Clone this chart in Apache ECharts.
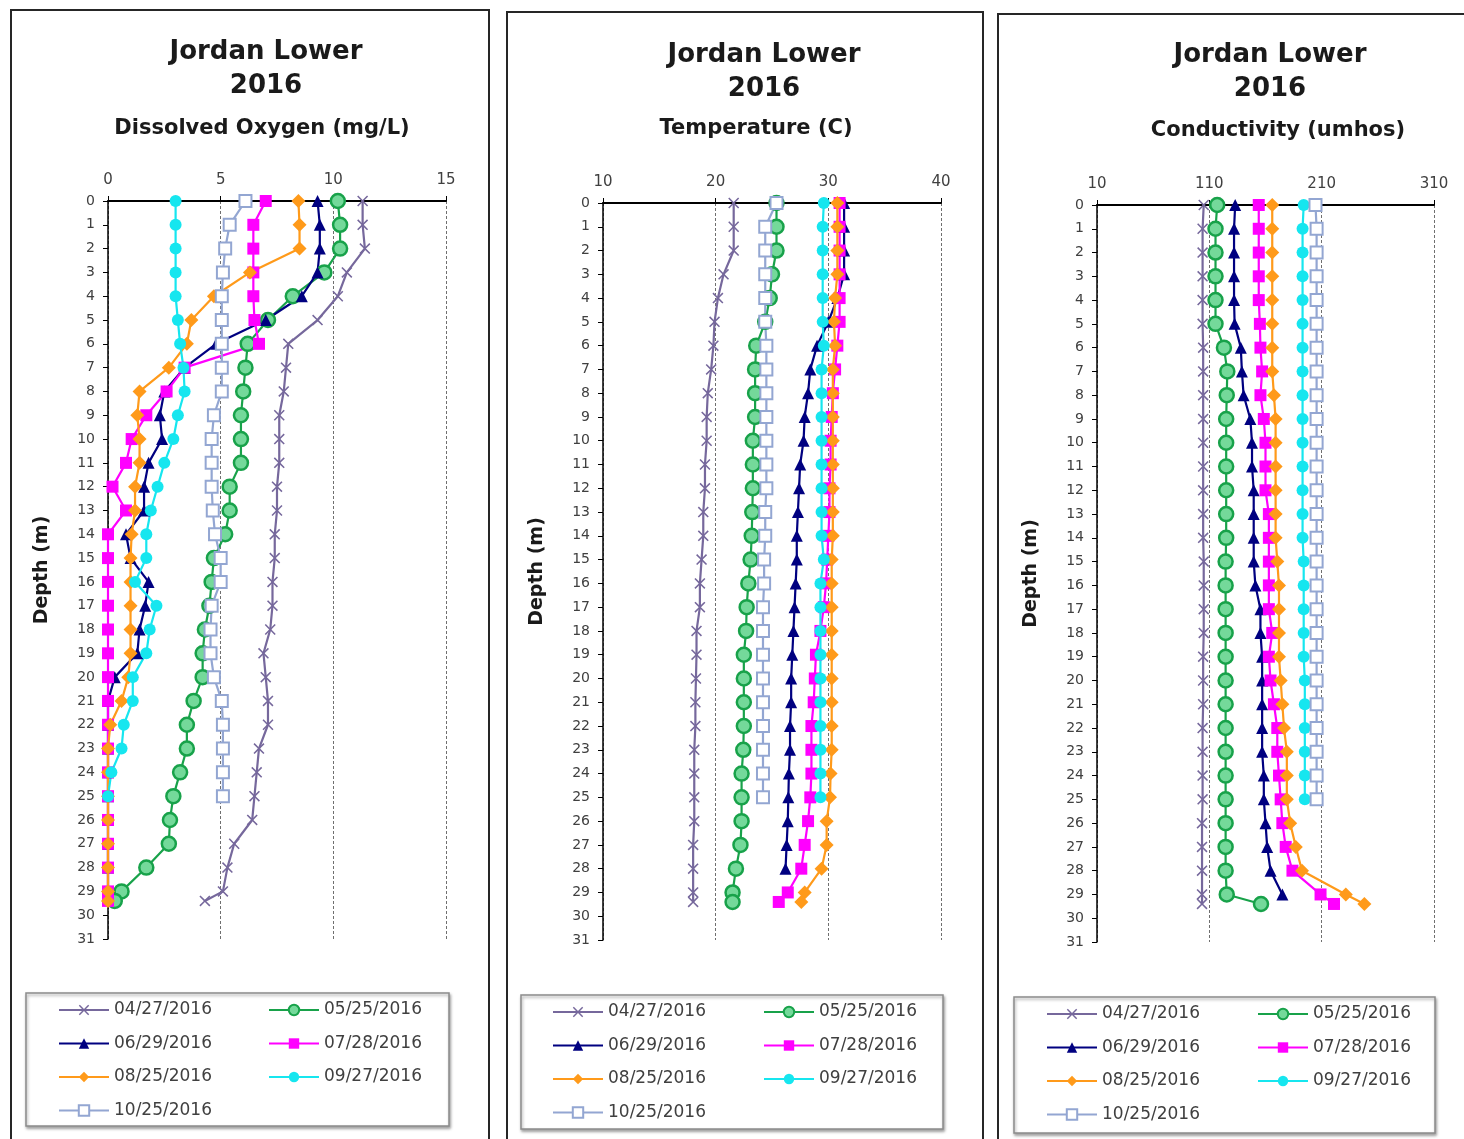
<!DOCTYPE html>
<html>
<head>
<meta charset="utf-8">
<title>Jordan Lower 2016</title>
<script src="https://cdn.jsdelivr.net/npm/echarts@6/dist/echarts.min.js"></script>
<style>
  html, body { margin: 0; padding: 0; background: #fff; }
  #chart { width: 1464px; height: 1139px; }
</style>
</head>
<body>
<div id="chart"></div>
<script>
// sampling dates (legend entries)
const dates = ["04/27/2016", "05/25/2016", "06/29/2016", "07/28/2016", "08/25/2016", "09/27/2016", "10/25/2016"];

// depth (m) of each reading
const depthsTo25 = [0, 1, 2, 3, 4, 5, 6, 7, 8, 9, 10, 11, 12, 13, 14, 15, 16, 17, 18, 19, 20, 21, 22, 23, 24, 25];
const depthsTo28 = [0, 1, 2, 3, 4, 5, 6, 7, 8, 9, 10, 11, 12, 13, 14, 15, 16, 17, 18, 19, 20, 21, 22, 23, 24, 25, 26, 27, 28];
const depthsTo29 = [0, 1, 2, 3, 4, 5, 6, 7, 8, 9, 10, 11, 12, 13, 14, 15, 16, 17, 18, 19, 20, 21, 22, 23, 24, 25, 26, 27, 28, 29];
const depthsToBottom = [0, 1, 2, 3, 4, 5, 6, 7, 8, 9, 10, 11, 12, 13, 14, 15, 16, 17, 18, 19, 20, 21, 22, 23, 24, 25, 26, 27, 28, 29, 29.4];

// dissolved oxygen (mg/L)
const oxygen0427 = [11.3, 11.3, 11.4, 10.6, 10.2, 9.3, 8.0, 7.9, 7.8, 7.6, 7.6, 7.6, 7.5, 7.5, 7.4, 7.4, 7.3, 7.3, 7.2, 6.9, 7.0, 7.1, 7.1, 6.7, 6.6, 6.5, 6.4, 5.6, 5.3, 5.1, 4.3];
const oxygen0525 = [10.2, 10.3, 10.3, 9.6, 8.2, 7.1, 6.2, 6.1, 6.0, 5.9, 5.9, 5.9, 5.4, 5.4, 5.2, 4.7, 4.6, 4.5, 4.3, 4.2, 4.2, 3.8, 3.5, 3.5, 3.2, 2.9, 2.75, 2.7, 1.7, 0.6, 0.3];
const oxygen0629 = [9.3, 9.4, 9.4, 9.3, 8.6, 7.0, 4.8, 3.4, 2.5, 2.3, 2.4, 1.8, 1.6, 1.6, 0.8, 1.0, 1.8, 1.65, 1.4, 1.3, 0.3, 0, 0, 0, 0, 0, 0, 0, 0, 0];
const oxygen0728 = [7.0, 6.45, 6.45, 6.45, 6.45, 6.5, 6.7, 3.4, 2.6, 1.7, 1.05, 0.8, 0.2, 0.8, 0, 0, 0, 0, 0, 0, 0, 0, 0, 0, 0, 0, 0, 0, 0, 0, 0];
const oxygen0825 = [8.45, 8.5, 8.5, 6.3, 4.7, 3.7, 3.5, 2.7, 1.4, 1.3, 1.4, 1.4, 1.2, 1.2, 1.05, 1.0, 1.0, 1.0, 1.0, 1.0, 0.9, 0.6, 0.1, 0, 0, 0, 0, 0, 0, 0, 0];
const oxygen0927 = [3.0, 3.0, 3.0, 3.0, 3.0, 3.1, 3.2, 3.35, 3.4, 3.1, 2.9, 2.5, 2.2, 1.9, 1.7, 1.7, 1.2, 2.15, 1.85, 1.7, 1.1, 1.1, 0.7, 0.6, 0.15, 0];
const oxygen1025 = [6.1, 5.4, 5.2, 5.1, 5.05, 5.05, 5.05, 5.05, 5.05, 4.7, 4.6, 4.6, 4.6, 4.65, 4.75, 5.0, 5.0, 4.6, 4.55, 4.55, 4.7, 5.05, 5.1, 5.1, 5.1, 5.1];

// temperature (C)
const temp0427 = [21.6, 21.6, 21.6, 20.7, 20.2, 19.9, 19.8, 19.6, 19.3, 19.2, 19.2, 19.05, 19.05, 18.9, 18.9, 18.75, 18.6, 18.6, 18.3, 18.3, 18.25, 18.2, 18.2, 18.1, 18.1, 18.1, 18.1, 18.0, 18.0, 18.0, 18.0];
const temp0525 = [25.4, 25.4, 25.4, 25.0, 24.8, 24.4, 23.6, 23.5, 23.5, 23.5, 23.3, 23.3, 23.3, 23.25, 23.2, 23.1, 22.9, 22.75, 22.7, 22.5, 22.5, 22.5, 22.5, 22.45, 22.3, 22.3, 22.3, 22.2, 21.8, 21.5, 21.5];
const temp0629 = [31.4, 31.4, 31.4, 31.4, 30.8, 30.0, 29.0, 28.4, 28.2, 27.9, 27.8, 27.5, 27.4, 27.3, 27.2, 27.2, 27.1, 27.0, 26.9, 26.8, 26.7, 26.7, 26.6, 26.6, 26.5, 26.45, 26.4, 26.3, 26.2];
const temp0728 = [31.0, 31.0, 31.0, 31.0, 31.0, 31.0, 30.8, 30.6, 30.4, 30.3, 30.2, 30.2, 30.1, 30.1, 30.0, 29.9, 29.8, 29.6, 29.3, 28.9, 28.8, 28.7, 28.5, 28.5, 28.5, 28.4, 28.2, 27.9, 27.6, 26.4, 25.6];
const temp0825 = [30.8, 30.8, 30.8, 30.8, 30.6, 30.5, 30.6, 30.4, 30.4, 30.4, 30.4, 30.4, 30.4, 30.4, 30.4, 30.3, 30.3, 30.3, 30.3, 30.3, 30.3, 30.3, 30.3, 30.3, 30.2, 30.15, 29.85, 29.85, 29.4, 27.9, 27.6];
const temp0927 = [29.6, 29.5, 29.5, 29.5, 29.5, 29.5, 29.6, 29.4, 29.4, 29.4, 29.4, 29.4, 29.4, 29.4, 29.4, 29.6, 29.3, 29.3, 29.3, 29.3, 29.3, 29.3, 29.3, 29.3, 29.3, 29.3];
const temp1025 = [25.4, 24.4, 24.4, 24.4, 24.4, 24.4, 24.5, 24.5, 24.5, 24.5, 24.5, 24.5, 24.5, 24.4, 24.4, 24.3, 24.3, 24.2, 24.2, 24.2, 24.2, 24.2, 24.2, 24.2, 24.2, 24.2];

// conductivity (umhos)
const cond0427 = [105, 104, 104, 104, 104, 104, 104.5, 104.5, 104.5, 104.5, 104.5, 104.5, 104.5, 104.5, 104.5, 105, 105, 105, 105, 104.5, 104.5, 104.5, 104, 104, 104, 104, 103.5, 103.5, 103.5, 103.5, 103.5];
const cond0525 = [117, 115.5, 115.5, 115.5, 115.5, 115.5, 123, 126, 125.5, 125, 125, 125, 125, 125, 125, 124.5, 124.5, 124.5, 124.5, 124.5, 124.5, 124.5, 124.5, 124.5, 124.5, 124.5, 124.5, 124.5, 124.5, 125.5, 156];
const cond0629 = [133, 132, 132, 132, 132, 132.5, 138, 139, 140.5, 146.5, 148, 148, 149.5, 149.5, 149.5, 149.5, 151, 155.5, 155.5, 157, 157, 157, 157, 157, 158.5, 158.5, 160, 161.5, 164.5, 175];
const cond0728 = [154, 154, 154, 154, 154, 155, 155.5, 157, 155.5, 158.5, 160, 160, 160, 163, 163, 163, 163, 163, 166, 163, 164.5, 167.5, 170.5, 170.5, 172, 173.5, 175, 178, 184, 209, 221];
const cond0825 = [166, 166, 166, 166, 166, 166, 166, 166, 167.5, 169, 169, 169, 169, 169, 169, 170.5, 172, 172, 172, 172, 173.5, 175, 176.5, 179, 179, 179, 182, 187, 192.5, 231.5, 248];
const cond0927 = [194, 193, 193, 193, 193, 193, 193, 193, 193, 193, 193, 193, 193, 193, 193, 194, 194, 194, 194, 194, 195, 195, 195, 195, 195, 195];
const cond1025 = [204.5, 205.5, 205.5, 205.5, 205.5, 205.5, 205.5, 205.5, 205.5, 205.5, 205.5, 205.5, 205.5, 205.5, 205.5, 205.5, 205.5, 205.5, 205.5, 205.5, 205.5, 205.5, 205.5, 205.5, 205.5, 205.5];

const FONT = '"DejaVu Sans", "Liberation Sans", sans-serif';
const X_MARK = "path://M0,1L1,0L5,4L9,0L10,1L6,5L10,9L9,10L5,6L1,10L0,9L4,5Z";

// one look per date, same in every panel
const looks = [
  { line: "#76689c", symbol: X_MARK, size: 11, item: { color: "#76689c" } },
  { line: "#18a24a", symbol: "circle", size: 14, item: { color: "#74d99a", borderColor: "#18a24a", borderWidth: 2.5 } },
  { line: "#000080", symbol: "triangle", size: 12, item: { color: "#000080" } },
  { line: "#ff00ff", symbol: "rect", size: 12, item: { color: "#ff00ff" } },
  { line: "#ff9a1a", symbol: "diamond", size: 14, item: { color: "#ff9a1a" } },
  { line: "#16e6ef", symbol: "circle", size: 12, item: { color: "#16e6ef" } },
  { line: "#93a6d2", symbol: "emptyRect", size: 12, item: { color: "#93a6d2", borderWidth: 1.6 } }
];

const panels = [
  {
    subtitle: "Dissolved Oxygen (mg/L)", min: 0, max: 15, interval: 5,
    grid: { left: 108, top: 201, width: 338, height: 738 },
    frame: { x: 11, y: 10, width: 478, height: 1140 },
    legendBox: { x: 26, y: 993, width: 423, height: 133 },
    cols: [58, 268], legendTop: 1000,
    titleX: 266, subX: 262, titleY: [52, 86, 129],
    values: [oxygen0427, oxygen0525, oxygen0629, oxygen0728, oxygen0825, oxygen0927, oxygen1025],
    depths: [depthsToBottom, depthsToBottom, depthsTo29, depthsToBottom, depthsToBottom, depthsTo25, depthsTo25]
  },
  {
    subtitle: "Temperature (C)", min: 10, max: 40, interval: 10,
    grid: { left: 603, top: 203, width: 338, height: 737 },
    frame: { x: 507, y: 12, width: 476, height: 1140 },
    legendBox: { x: 521, y: 995, width: 422, height: 134 },
    cols: [552, 763], legendTop: 1002,
    titleX: 764, subX: 756, titleY: [55, 89, 129],
    values: [temp0427, temp0525, temp0629, temp0728, temp0825, temp0927, temp1025],
    depths: [depthsToBottom, depthsToBottom, depthsTo28, depthsToBottom, depthsToBottom, depthsTo25, depthsTo25]
  },
  {
    subtitle: "Conductivity (umhos)", min: 10, max: 310, interval: 100,
    grid: { left: 1097, top: 205, width: 337, height: 737 },
    frame: { x: 998, y: 14, width: 480, height: 1140 },
    legendBox: { x: 1014, y: 997, width: 421, height: 136 },
    cols: [1046, 1257], legendTop: 1004,
    titleX: 1270, subX: 1278, titleY: [55, 89, 131],
    values: [cond0427, cond0525, cond0629, cond0728, cond0825, cond0927, cond1025],
    depths: [depthsToBottom, depthsToBottom, depthsTo29, depthsToBottom, depthsToBottom, depthsTo25, depthsTo25]
  }
];

const grids = [];
const xAxes = [];
const yAxes = [];
const series = [];
const legends = [];
const graphics = [];

panels.forEach((p, pi) => {
  grids.push(Object.assign({ outerBoundsMode: "none" }, p.grid));

  xAxes.push({
    type: "value", gridIndex: pi, position: "top",
    min: p.min, max: p.max, interval: p.interval,
    axisLine: { show: true, onZero: false, lineStyle: { color: "#000", width: 2 } },
    axisTick: { show: true, length: 5, lineStyle: { color: "#000" } },
    axisLabel: { fontSize: 15, color: "#404040", margin: 13, fontFamily: FONT },
    splitLine: { show: true, lineStyle: { color: "#6f6f6f", width: 1, type: [3, 2] } }
  });

  yAxes.push({
    type: "value", gridIndex: pi, inverse: true,
    min: 0, max: 31, interval: 1,
    name: "Depth (m)", nameLocation: "middle", nameGap: 56,
    nameTextStyle: { fontSize: 19, fontWeight: "bold", color: "#1a1a1a", fontFamily: FONT },
    axisLine: { show: true, onZero: false, lineStyle: { color: "#000", width: 1.5 } },
    axisTick: { show: true, length: 5, lineStyle: { color: "#000" } },
    axisLabel: { fontSize: 14, color: "#404040", margin: 13, fontFamily: FONT },
    splitLine: { show: false }
  });

  p.values.forEach((vals, si) => {
    const look = looks[si];
    const depth = p.depths[si];
    series.push({
      name: dates[si], type: "line",
      xAxisIndex: pi, yAxisIndex: pi,
      data: vals.map((v, k) => [v, depth[k]]),
      symbol: look.symbol, symbolSize: look.size,
      lineStyle: { color: look.line, width: 2.2 },
      itemStyle: look.item,
      emphasis: { disabled: true }
    });
  });

  // legend in two columns, like the spreadsheet box
  const leftNames = [dates[0], dates[2], dates[4], dates[6]];
  const rightNames = [dates[1], dates[3], dates[5]];
  [leftNames, rightNames].forEach((names, ci) => {
    legends.push({
      orient: "vertical", left: p.cols[ci], top: p.legendTop,
      padding: 0, itemGap: 13.5, itemWidth: 50, itemHeight: 13,
      data: names,
      textStyle: { fontSize: 17, color: "#404040", lineHeight: 20, fontFamily: FONT }
    });
  });

  graphics.push({
    type: "rect", z: 0,
    shape: p.frame,
    style: { fill: "none", stroke: "#262626", lineWidth: 2 }
  });
  graphics.push({
    type: "rect", z: 0,
    shape: p.legendBox,
    style: { fill: "#fff", stroke: "#8c8c8c", lineWidth: 1.5, shadowBlur: 3, shadowOffsetX: 1, shadowOffsetY: 2, shadowColor: "rgba(0,0,0,0.35)" }
  });

  const titleLines = [
    { text: "Jordan Lower", x: p.titleX, y: p.titleY[0], font: "bold 26px " + FONT },
    { text: "2016", x: p.titleX, y: p.titleY[1], font: "bold 26px " + FONT },
    { text: p.subtitle, x: p.subX, y: p.titleY[2], font: "bold 21px " + FONT }
  ];
  titleLines.forEach((t) => {
    graphics.push({
      type: "text", z: 10,
      x: t.x, y: t.y,
      style: {
        text: t.text, font: t.font, fill: "#1a1a1a",
        align: "center", verticalAlign: "middle",
        textAlign: "center", textVerticalAlign: "middle"
      }
    });
  });
});

const chart = echarts.init(document.getElementById("chart"));
chart.setOption({
  animation: false,
  backgroundColor: "#fff",
  textStyle: { fontFamily: FONT },
  grid: grids,
  xAxis: xAxes,
  yAxis: yAxes,
  legend: legends,
  graphic: graphics,
  series: series
});
</script>
</body>
</html>
